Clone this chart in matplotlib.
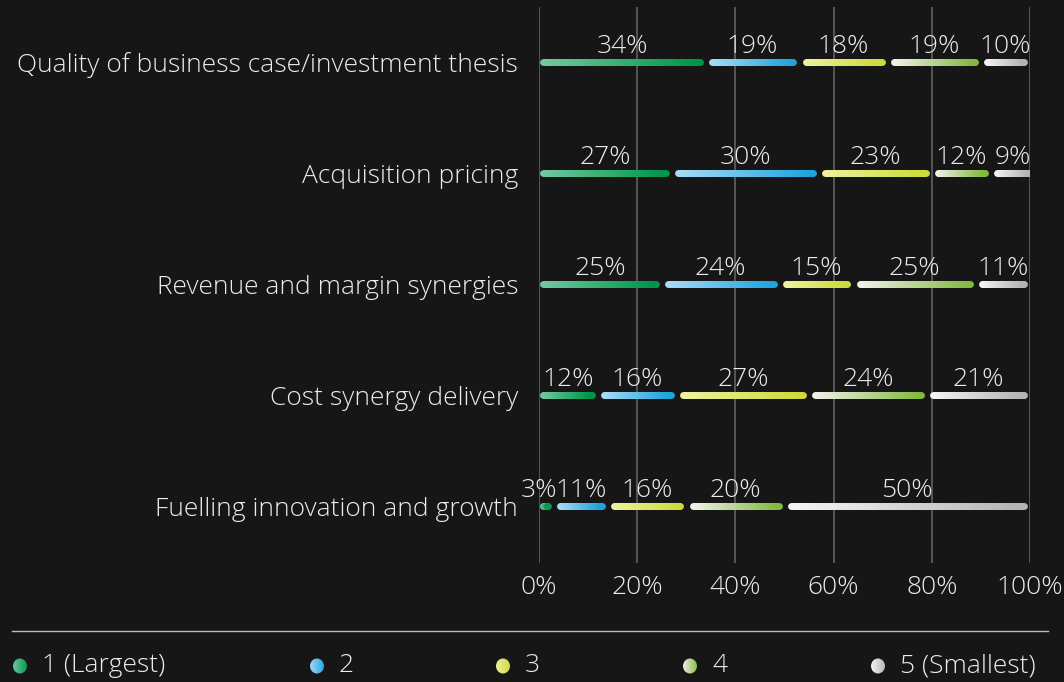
import numpy as np
import matplotlib.pyplot as plt
from matplotlib.collections import LineCollection
from matplotlib.colors import to_rgb
from matplotlib.patches import Ellipse

categories = ["Quality of business case/investment thesis", "Acquisition pricing",
              "Revenue and margin synergies", "Cost synergy delivery",
              "Fuelling innovation and growth"]
rank1 = [34, 27, 25, 12, 3]
rank2 = [19, 30, 24, 16, 11]
rank3 = [18, 23, 15, 27, 16]
rank4 = [19, 12, 25, 24, 20]
rank5 = [10, 9, 11, 21, 50]
series = [rank1, rank2, rank3, rank4, rank5]
series_names = ["1 (Largest)", "2", "3", "4", "5 (Smallest)"]
xticks = [0, 20, 40, 60, 80, 100]

# gradient start/end colours per series
grads = [("#72c9a0", "#00964a"), ("#a9dcf6", "#1fa4de"), ("#eef2a0", "#cdda3a"),
         ("#f2f2ee", "#84ba40"), ("#f6f6f6", "#b4b4b4")]

bg = "#161616"
txt = "#ececec"
fs = 19
plt.rcParams['font.family'] = ['Open Sans', 'DejaVu Sans']

fig = plt.figure(figsize=(10.64, 6.82), dpi=100, facecolor=bg)
ax = fig.add_axes([539 / 1064, 1 - 563 / 682, 491 / 1064, 556 / 682], facecolor=bg)


def grad_line(ax, x0, x1, y, c0, c1, n=60):
    xs = np.linspace(x0, x1, n + 1)
    segs = [[(xs[i], y), (xs[i + 1], y)] for i in range(n)]
    a, b = np.array(to_rgb(c0)), np.array(to_rgb(c1))
    t = np.linspace(0, 1, n)[:, None]
    cols = a * (1 - t) + b * t
    lc = LineCollection(segs, colors=cols, linewidths=5, capstyle='round', zorder=3)
    ax.add_collection(lc)


cap = 0.7  # round cap radius in % units
for i, cat in enumerate(categories):
    left = 0
    for s, vals in enumerate(series):
        v = vals[i]
        x0 = left + (0.2 if s == 0 else 0.6) + cap
        x1 = left + v - 0.5 - cap
        if x1 < x0:
            x1 = x0
        grad_line(ax, x0, x1, i, *grads[s])
        dx = -5 if v < 5 else 0
        ax.annotate(f"{v}%", (left + v / 2, i), xytext=(dx, 7), textcoords='offset points',
                    ha='center', va='baseline', fontsize=fs, color=txt,
                    fontweight='light', zorder=4)
        left += v

ax.set_xlim(0, 100)
ax.set_ylim(4.51, -0.5)
ax.set_xticks(xticks)
ax.set_xticklabels([f"{t}%" for t in xticks])
ax.set_yticks(range(len(categories)))
ax.set_yticklabels(categories)
ax.tick_params(length=0, colors=txt, labelsize=fs)
ax.tick_params(axis='y', pad=15)
ax.tick_params(axis='x', pad=9)
for lab in ax.get_xticklabels() + ax.get_yticklabels():
    lab.set_fontweight('light')
ax.grid(axis='x', color="#5a5a5a", linewidth=1.3, zorder=1)
for sp in ax.spines.values():
    sp.set_visible(False)

# separator line
fig.add_artist(plt.Line2D([12 / 1064, 1048 / 1064], [1 - 631 / 682, 1 - 631 / 682],
                          color="#bdbdbd", linewidth=1))

# legend with gradient dots
leg_x = [20, 317, 503, 690, 878]
leg_y = 1 - 666 / 682
for k, name in enumerate(series_names):
    w, h = 16 / 1064, 18 / 682
    dax = fig.add_axes([leg_x[k] / 1064 - w / 2, leg_y - h / 2, w, h])
    dax.axis('off')
    a, b = np.array(to_rgb(grads[k][0])), np.array(to_rgb(grads[k][1]))
    t = np.linspace(0, 1, 50)[None, :, None]
    img = a * (1 - t) + b * t
    im = dax.imshow(img, extent=(0, 1, 0, 1), aspect='auto')
    el = Ellipse((0.5, 0.5), 14 / 16, 15 / 18, transform=dax.transAxes)
    im.set_clip_path(el)
    fig.text((leg_x[k] + 22) / 1064, leg_y, name, color=txt, fontsize=fs,
             fontweight='light', va='center', ha='left')

fig.savefig("out.png", dpi=100, facecolor=bg)
